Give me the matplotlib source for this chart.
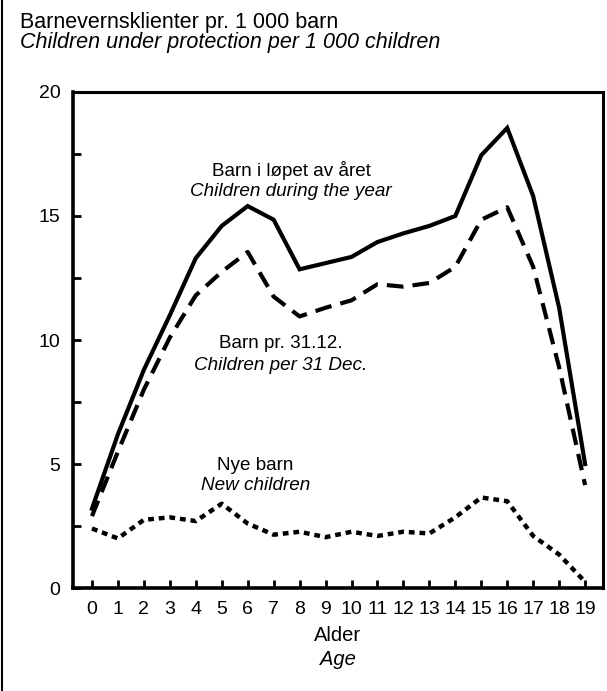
import matplotlib.pyplot as plt
from matplotlib.lines import Line2D

plt.rcParams['font.family'] = ['Liberation Sans', 'DejaVu Sans']

# alder 0-19 og barnevernsklienter pr. 1 000 barn
alder = list(range(20))
i_lopet_av_aret = [3.2, 6.2, 8.8, 11.0, 13.3, 14.6, 15.4, 14.85, 12.85, 13.1,
                   13.35, 13.95, 14.3, 14.6, 15.0, 17.45, 18.55, 15.8, 11.3, 5.0]
pr_3112 = [2.9, 5.5, 8.0, 10.1, 11.8, 12.75, 13.55, 11.75, 10.95, 11.3,
           11.6, 12.25, 12.15, 12.3, 12.95, 14.85, 15.35, 12.95, 8.9, 4.15]
nye_barn = [2.4, 2.0, 2.75, 2.85, 2.7, 3.4, 2.6, 2.15, 2.27, 2.05,
            2.27, 2.1, 2.27, 2.2, 2.85, 3.65, 3.5, 2.1, 1.35, 0.25]

y_ticks = [0, 2.5, 5, 7.5, 10, 12.5, 15, 17.5, 20]
y_labels = ['0', '', '5', '', '10', '', '15', '', '20']

fig = plt.figure(figsize=(6.07, 6.91), dpi=100)
ax = fig.add_axes([0.1203, 0.149, 0.8731, 0.7179])

ax.plot(alder, i_lopet_av_aret, color='black', lw=3, solid_joinstyle='miter')
ax.plot(alder, pr_3112, color='black', lw=3, dashes=(4, 2.2))
ax.plot(alder, nye_barn, color='black', lw=3.2, dashes=(1.3, 1.1))

ax.set_xlim(-0.73, 19.69)
ax.set_ylim(0, 20)
ax.set_xticks(alder)
ax.set_yticks(y_ticks)
ax.set_yticklabels(y_labels)
ax.tick_params(direction='in', length=6, width=2, labelsize=14, pad=9)
for side in ['left', 'bottom']:
    ax.spines[side].set_linewidth(2.6)
for side in ['top', 'right']:
    ax.spines[side].set_linewidth(2.2)

# tekst ved kurvene
ax.text(7.67, 16.85, 'Barn i løpet av året', ha='center', va='center', fontsize=13.6)
ax.text(7.67, 15.98, 'Children during the year', ha='center', va='center', fontsize=13.6, style='italic')
ax.text(7.28, 9.87, 'Barn pr. 31.12.', ha='center', va='center', fontsize=13.6)
ax.text(7.28, 8.99, 'Children per 31 Dec.', ha='center', va='center', fontsize=13.6, style='italic')
ax.text(6.3, 4.96, 'Nye barn', ha='center', va='center', fontsize=13.6)
ax.text(6.3, 4.15, 'New children', ha='center', va='center', fontsize=13.6, style='italic')

ax.text(0.5, -0.095, 'Alder', transform=ax.transAxes, ha='center', va='center', fontsize=14.5)
ax.text(0.5, -0.145, 'Age', transform=ax.transAxes, ha='center', va='center', fontsize=14.5, style='italic')

fig.text(0.033, 0.967, 'Barnevernsklienter pr. 1 000 barn', ha='left', va='center', fontsize=15.5)
fig.text(0.033, 0.939, 'Children under protection per 1 000 children', ha='left', va='center',
         fontsize=15.5, style='italic')

fig.add_artist(Line2D([0.004, 0.004], [0, 1], transform=fig.transFigure, color='black', lw=1.5))

fig.savefig('out.png', dpi=100)
